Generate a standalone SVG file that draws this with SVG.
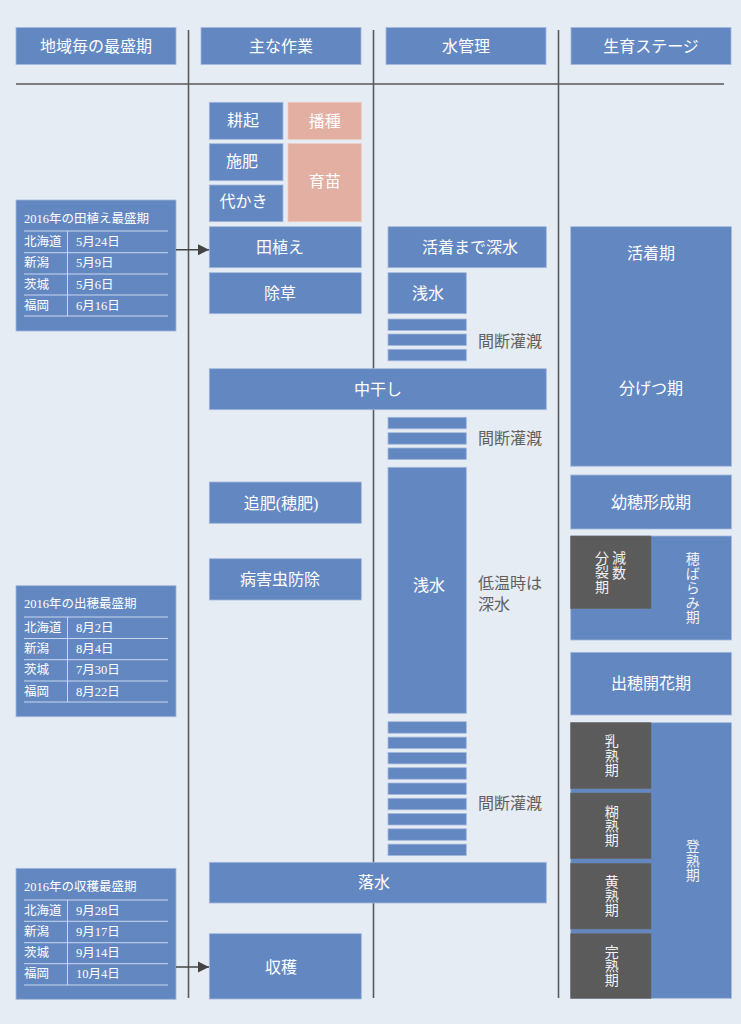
<svg xmlns="http://www.w3.org/2000/svg" width="741" height="1024" viewBox="0 0 741 1024">
<style>
text{font-family:"Liberation Serif","Noto Sans CJK JP",sans-serif}
.b{fill:#6388C1;stroke:#A3B8DC;stroke-width:0.8}
.p{fill:#E2AFA2;stroke:#EEC9BE;stroke-width:0.8}
.d{fill:#5B5B5B;stroke:#6a6a6a;stroke-width:0.6}
.t{fill:#fff;font-size:16px;text-anchor:middle;dominant-baseline:central}
.g{fill:#606060;font-size:16px;dominant-baseline:central}
.s{fill:#fff;font-size:12.5px;dominant-baseline:central}
.v{fill:#f2f2f2;font-size:14px;text-anchor:middle;dominant-baseline:central}
.ln{stroke:#5a5a5a;stroke-width:1.6;fill:none}
.tl{stroke:#C9D7EE;stroke-width:1;fill:none}
.ar{stroke:#444;stroke-width:1.6;fill:none}
</style>
<defs>
<marker id="ah" markerWidth="12" markerHeight="12" refX="11" refY="6" orient="auto" markerUnits="userSpaceOnUse">
<path d="M0,0.5 L11,6 L0,11.5 Z" fill="#444"/>
</marker>
</defs>
<rect x="0" y="0" width="741" height="1024" fill="#E5ECF4"/>

<g id="grid">
<line class="ln" x1="16" y1="84" x2="724" y2="84"/>
<line class="ln" x1="188.5" y1="30" x2="188.5" y2="998"/>
<line class="ln" x1="373.5" y1="30" x2="373.5" y2="998"/>
<line class="ln" x1="558.5" y1="30" x2="558.5" y2="998"/>
</g>

<g id="headers">
<g id="h1"><rect class="b" x="16" y="27.5" width="160" height="37"/><text class="t" x="96" y="46">地域毎の最盛期</text></g>
<g id="h2"><rect class="b" x="201" y="27.5" width="160" height="37"/><text class="t" x="281" y="46">主な作業</text></g>
<g id="h3"><rect class="b" x="386" y="27.5" width="160" height="37"/><text class="t" x="466" y="46">水管理</text></g>
<g id="h4"><rect class="b" x="571" y="27.5" width="160" height="37"/><text class="t" x="651" y="46">生育ステージ</text></g>
</g>

<g id="table1">
<rect class="b" x="16" y="200" width="160" height="131"/>
<text class="s" x="24" y="218.5">2016年の田植え最盛期</text>
<path class="tl" d="M24,231H168M24,252.7H168M24,274H168M24,295H168M24,316H168M67.5,231V316"/>
<text class="s" x="24" y="242">北海道</text><text class="s" x="76" y="242">5月24日</text>
<text class="s" x="24" y="263.3">新潟</text><text class="s" x="76" y="263.3">5月9日</text>
<text class="s" x="24" y="284.5">茨城</text><text class="s" x="76" y="284.5">5月6日</text>
<text class="s" x="24" y="305.5">福岡</text><text class="s" x="76" y="305.5">6月16日</text>
</g>

<g id="table2">
<rect class="b" x="16" y="585.7" width="160" height="131"/>
<text class="s" x="24" y="604.3">2016年の出穂最盛期</text>
<path class="tl" d="M24,617H168M24,638.5H168M24,659.7H168M24,681H168M24,702H168M67.5,617V702"/>
<text class="s" x="24" y="627.8">北海道</text><text class="s" x="76" y="627.8">8月2日</text>
<text class="s" x="24" y="649.1">新潟</text><text class="s" x="76" y="649.1">8月4日</text>
<text class="s" x="24" y="670.3">茨城</text><text class="s" x="76" y="670.3">7月30日</text>
<text class="s" x="24" y="691.5">福岡</text><text class="s" x="76" y="691.5">8月22日</text>
</g>

<g id="table3">
<rect class="b" x="16" y="868.3" width="160" height="131"/>
<text class="s" x="24" y="886.7">2016年の収穫最盛期</text>
<path class="tl" d="M24,900H168M24,921.3H168M24,942.7H168M24,963.7H168M24,985H168M67.5,900V985"/>
<text class="s" x="24" y="910.7">北海道</text><text class="s" x="76" y="910.7">9月28日</text>
<text class="s" x="24" y="932">新潟</text><text class="s" x="76" y="932">9月17日</text>
<text class="s" x="24" y="953.2">茨城</text><text class="s" x="76" y="953.2">9月14日</text>
<text class="s" x="24" y="974.3">福岡</text><text class="s" x="76" y="974.3">10月4日</text>
</g>

<g id="work">
<g id="w-kouki"><rect class="b" x="209.3" y="102.3" width="73.7" height="37"/><text class="t" x="243" y="120.5">耕起</text></g>
<g id="w-hashu"><rect class="p" x="288" y="102.3" width="73.3" height="37"/><text class="t" x="324.7" y="121">播種</text></g>
<g id="w-sehi"><rect class="b" x="209.3" y="143.7" width="73.7" height="37"/><text class="t" x="242" y="161.5">施肥</text></g>
<g id="w-ikubyo"><rect class="p" x="288" y="143.7" width="73.3" height="78"/><text class="t" x="324.7" y="181.5">育苗</text></g>
<g id="w-shirokaki"><rect class="b" x="209.3" y="185" width="73.7" height="36.7"/><text class="t" x="243.5" y="201.5">代かき</text></g>
<g id="w-taue"><rect class="b" x="209.3" y="226.7" width="152" height="41"/><text class="t" x="280" y="247.5">田植え</text></g>
<g id="w-josou"><rect class="b" x="209.3" y="272.7" width="152" height="41"/><text class="t" x="280" y="293">除草</text></g>
<g id="w-tsuihi"><rect class="b" x="209.3" y="482" width="152" height="41.3"/><text class="t" x="281" y="503">追肥(穂肥)</text></g>
<g id="w-boujo"><rect class="b" x="209.3" y="558.7" width="152" height="41.3"/><text class="t" x="280" y="579">病害虫防除</text></g>
<g id="w-shukaku"><rect class="b" x="209.3" y="933.7" width="152" height="65.3"/><text class="t" x="281" y="967">収穫</text></g>
</g>

<g id="water">
<g id="m-fukami"><rect class="b" x="388" y="226.7" width="158.3" height="41"/><text class="t" x="470" y="247.5">活着まで深水</text></g>
<g id="m-asamizu1"><rect class="b" x="388" y="272.7" width="78.3" height="41"/><text class="t" x="428" y="293">浅水</text></g>
<g id="m-kandan1">
<rect class="b" x="388" y="319" width="78.3" height="11.5"/>
<rect class="b" x="388" y="334" width="78.3" height="11.5"/>
<rect class="b" x="388" y="349.3" width="78.3" height="11.5"/>
<text class="g" x="478" y="341">間断灌漑</text>
</g>
<g id="nakaboshi"><rect class="b" x="209.3" y="368.7" width="337" height="41"/><text class="t" x="378" y="389">中干し</text></g>
<g id="m-kandan2">
<rect class="b" x="388" y="417.3" width="78.3" height="11.5"/>
<rect class="b" x="388" y="432.7" width="78.3" height="11.5"/>
<rect class="b" x="388" y="448" width="78.3" height="11.5"/>
<text class="g" x="478" y="438">間断灌漑</text>
</g>
<g id="m-asamizu2"><rect class="b" x="388" y="467.3" width="78.3" height="246"/><text class="t" x="429" y="585">浅水</text></g>
<text class="g" x="478" y="583">低温時は</text>
<text class="g" x="478" y="604">深水</text>
<g id="m-kandan3">
<rect class="b" x="388" y="721.7" width="78.3" height="11.5"/>
<rect class="b" x="388" y="737.1" width="78.3" height="11.5"/>
<rect class="b" x="388" y="752.4" width="78.3" height="11.5"/>
<rect class="b" x="388" y="767.7" width="78.3" height="11.5"/>
<rect class="b" x="388" y="783" width="78.3" height="11.5"/>
<rect class="b" x="388" y="798.3" width="78.3" height="11.5"/>
<rect class="b" x="388" y="813.5" width="78.3" height="11.5"/>
<rect class="b" x="388" y="828.8" width="78.3" height="11.5"/>
<rect class="b" x="388" y="844.1" width="78.3" height="11.5"/>
<text class="g" x="478" y="803">間断灌漑</text>
</g>
<g id="rakusui"><rect class="b" x="209.3" y="862.3" width="337" height="40.7"/><text class="t" x="374" y="882.5">落水</text></g>
</g>

<g id="stage">
<g id="s-katchaku"><rect class="b" x="570.7" y="226.7" width="160.7" height="239.5"/><text class="t" x="651" y="253">活着期</text><text class="t" x="651" y="388">分げつ期</text></g>
<g id="s-yousui"><rect class="b" x="570.7" y="475" width="160.7" height="54"/><text class="t" x="651" y="502">幼穂形成期</text></g>
<g id="s-hobarami"><rect class="b" x="570.7" y="536" width="160.7" height="104"/>
<text class="v"><tspan x="692.7" y="559">穂</tspan><tspan x="692.7" y="573.5">ば</tspan><tspan x="692.7" y="588">ら</tspan><tspan x="692.7" y="602.5">み</tspan><tspan x="692.7" y="617">期</tspan></text>
</g>
<g id="s-gensu"><rect class="d" x="570.7" y="536" width="80.3" height="72.7"/>
<text class="v"><tspan x="619" y="558">減</tspan><tspan x="619" y="573">数</tspan></text>
<text class="v"><tspan x="602" y="557.5">分</tspan><tspan x="602" y="572.3">裂</tspan><tspan x="602" y="587">期</tspan></text>
</g>
<g id="s-shussui"><rect class="b" x="570.7" y="652.3" width="160.7" height="62.7"/><text class="t" x="651" y="683.5">出穂開花期</text></g>
<g id="s-tojuku"><rect class="b" x="570.7" y="722.7" width="160.7" height="275.6"/>
<text class="v"><tspan x="692.7" y="846">登</tspan><tspan x="692.7" y="860.5">熟</tspan><tspan x="692.7" y="875">期</tspan></text>
</g>
<g id="s-nyujuku"><rect class="d" x="570.7" y="722.7" width="80.3" height="66"/>
<text class="v"><tspan x="611.7" y="741.4">乳</tspan><tspan x="611.7" y="755.7">熟</tspan><tspan x="611.7" y="770">期</tspan></text></g>
<g id="s-kojuku"><rect class="d" x="570.7" y="793" width="80.3" height="65.7"/>
<text class="v"><tspan x="611.7" y="811.5">糊</tspan><tspan x="611.7" y="825.8">熟</tspan><tspan x="611.7" y="840.1">期</tspan></text></g>
<g id="s-kojuku2"><rect class="d" x="570.7" y="863.3" width="80.3" height="65.7"/>
<text class="v"><tspan x="611.7" y="881.8">黄</tspan><tspan x="611.7" y="896.1">熟</tspan><tspan x="611.7" y="910.4">期</tspan></text></g>
<g id="s-kanjuku"><rect class="d" x="570.7" y="933.7" width="80.3" height="64.6"/>
<text class="v"><tspan x="611.7" y="951.7">完</tspan><tspan x="611.7" y="966">熟</tspan><tspan x="611.7" y="980.3">期</tspan></text></g>
</g>

<g id="connectors">
<line class="ar" x1="176" y1="249.7" x2="209" y2="249.7" marker-end="url(#ah)"/>
<line class="ar" x1="176" y1="967" x2="209" y2="967" marker-end="url(#ah)"/>
</g>
</svg>
